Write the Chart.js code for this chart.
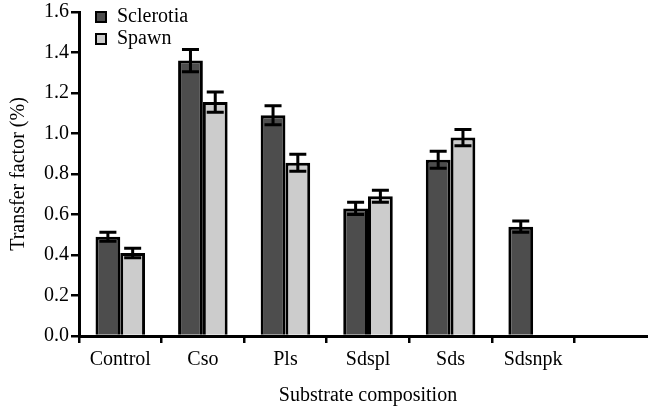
<!DOCTYPE html>
<html>
<head>
<meta charset="utf-8">
<script src="https://cdn.jsdelivr.net/npm/chart.js@4/dist/chart.umd.min.js"></script>
<style>
  html, body { margin: 0; padding: 0; background: #fff; }
  #wrap { width: 648px; height: 406px; }
</style>
</head>
<body>
<div id="wrap"><canvas id="c" width="648" height="406"></canvas></div>
<script>
// Substrate treatments (the trailing blank slot keeps the axis running on to the right)
const categories = ["Control", "Cso", "Pls", "Sdspl", "Sds", "Sdsnpk", ""];

// Transfer factor (%) means and their standard errors
const sclerotia    = [0.49, 1.36, 1.09, 0.63, 0.87, 0.54];
const sclerotiaErr = [0.022, 0.055, 0.047, 0.03, 0.042, 0.028];
const spawn        = [0.41, 1.155, 0.855, 0.69, 0.98, null];
const spawnErr     = [0.023, 0.05, 0.042, 0.03, 0.04, null];

const yTicks = [0, 0.2, 0.4, 0.6, 0.8, 1.0, 1.2, 1.4, 1.6];

const SERIF = "'Liberation Serif', 'Times New Roman', serif";

// The x axis runs a little past the right edge of the canvas
const X_OVERHANG = 9;

const widenX = {
  id: 'widenX',
  afterLayout(chart) {
    const x = chart.scales.x;
    x.right += X_OVERHANG;
    x.width += X_OVERHANG;
    x.configure();
  }
};

// Error bars drawn on top of each bar, using the y scale of the chart
const errorBars = {
  id: 'errorBars',
  afterDatasetsDraw(chart) {
    const ctx = chart.ctx;
    const y = chart.scales.y;
    ctx.save();
    ctx.strokeStyle = '#000';
    ctx.lineWidth = 3;
    ctx.lineCap = 'butt';
    chart.data.datasets.forEach((ds, di) => {
      const meta = chart.getDatasetMeta(di);
      meta.data.forEach((bar, i) => {
        const v = ds.data[i];
        const e = ds.errors[i];
        if (v == null || e == null) return;
        const x = bar.x;
        const yHi = y.getPixelForValue(v + e);
        const yLo = y.getPixelForValue(v - e);
        const cap = 8.5;
        ctx.beginPath();
        ctx.moveTo(x, yHi); ctx.lineTo(x, yLo);
        ctx.moveTo(x - cap, yHi); ctx.lineTo(x + cap, yHi);
        ctx.moveTo(x - cap, yLo); ctx.lineTo(x + cap, yLo);
        ctx.stroke();
      });
    });
    ctx.restore();
  }
};

// Legend tucked into the top-left corner of the plot area
const cornerLegend = {
  id: 'cornerLegend',
  afterDraw(chart) {
    const ctx = chart.ctx;
    const area = chart.chartArea;
    ctx.save();
    ctx.font = '20px ' + SERIF;
    ctx.textBaseline = 'middle';
    ctx.textAlign = 'left';
    chart.data.datasets.forEach((ds, i) => {
      const bx = area.left + 17;
      const by = area.top + i * 22;
      ctx.fillStyle = ds.backgroundColor;
      ctx.fillRect(bx, by, 10, 10);
      ctx.strokeStyle = '#000';
      ctx.lineWidth = 2;
      ctx.strokeRect(bx, by, 10, 10);
      ctx.fillStyle = '#000';
      ctx.fillText(ds.label, bx + 21, by + 5);
    });
    ctx.restore();
  }
};

new Chart(document.getElementById('c'), {
  type: 'bar',
  data: {
    labels: categories,
    datasets: [
      {
        label: 'Sclerotia',
        data: sclerotia,
        errors: sclerotiaErr,
        backgroundColor: '#4d4d4d',
        borderColor: '#000',
        borderWidth: 3
      },
      {
        label: 'Spawn',
        data: spawn,
        errors: spawnErr,
        backgroundColor: '#cccccc',
        borderColor: '#000',
        borderWidth: 3
      }
    ]
  },
  options: {
    responsive: false,
    animation: false,
    layout: { padding: { top: 11, right: 0, left: 0, bottom: 0 } },
    datasets: {
      bar: { categoryPercentage: 0.6, barPercentage: 1.0 }
    },
    plugins: {
      legend: { display: false },
      tooltip: { enabled: false }
    },
    scales: {
      x: {
        offset: true,
        grid: {
          offset: true,
          drawOnChartArea: false,
          drawTicks: true,
          tickLength: 7,
          color: '#000',
          lineWidth: 2.5
        },
        border: { display: true, color: '#000', width: 3 },
        ticks: {
          color: '#000',
          padding: 5,
          font: { family: SERIF, size: 20 },
          maxRotation: 0,
          autoSkip: false
        },
        title: {
          display: true,
          text: 'Substrate composition',
          color: '#000',
          font: { family: SERIF, size: 20 },
          padding: { top: 2, bottom: -2 }
        },
        afterFit(scale) { scale.height = 70; }
      },
      y: {
        min: 0,
        max: 1.6,
        afterBuildTicks(scale) { scale.ticks = yTicks.map(v => ({ value: v })); },
        grid: {
          drawOnChartArea: false,
          drawTicks: true,
          tickLength: 8,
          color: '#000',
          lineWidth: 2.5
        },
        border: { display: true, color: '#000', width: 3 },
        ticks: {
          color: '#000',
          padding: 2,
          font: { family: SERIF, size: 20, lineHeight: 1 },
          callback: v => Number(v).toFixed(1)
        },
        title: {
          display: true,
          text: 'Transfer factor (%)',
          color: '#000',
          font: { family: SERIF, size: 20 },
          padding: { top: 7, bottom: 0 }
        },
        afterFit(scale) { scale.width = 79; }
      }
    }
  },
  plugins: [widenX, errorBars, cornerLegend]
});
</script>
</body>
</html>
